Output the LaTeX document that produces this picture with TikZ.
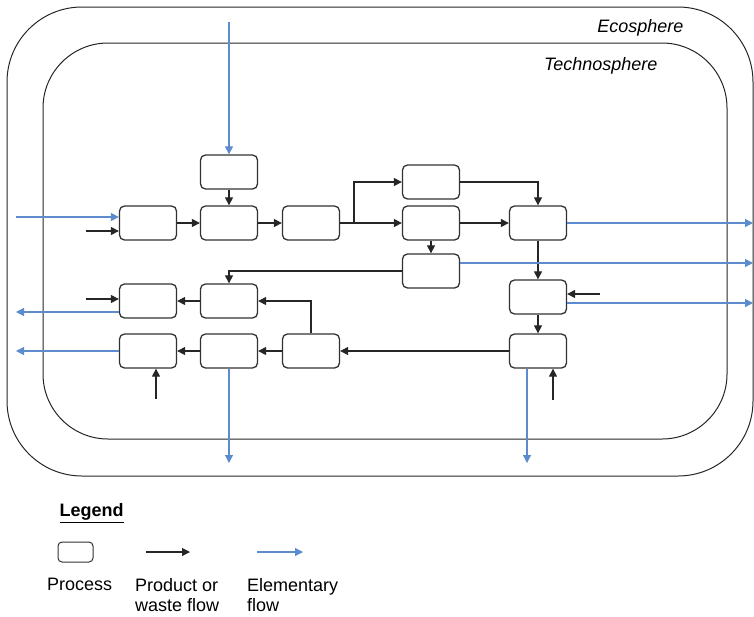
\documentclass[tikz,border=0pt]{standalone}
\usepackage{fontspec}
\setmainfont{Liberation Sans}
\usetikzlibrary{arrows.meta,positioning}
\definecolor{eblue}{RGB}{92,140,205}
\definecolor{boxgray}{RGB}{50,50,50}

\begin{document}
\begin{tikzpicture}[x=1pt, y=-1pt, >={Triangle[length=8pt,width=8pt]},
		font=\fontsize{18}{20}\selectfont,
		proc/.style = {draw=boxgray, line width=1.3pt, rounded corners=5pt, minimum width=57pt, minimum height=34pt, inner sep=0pt},
		pflow/.style = {->, line width=1.1pt, draw=black!85},
		eflow/.style = {->, line width=1.1pt, draw=eblue},
		sphere/.style = {draw=black!85, line width=1pt}]
		\useasboundingbox (0,0) rectangle (754,616);
		% spheres
		\draw[sphere, rounded corners=75pt] (7,7) rectangle (753,476);
		\draw[sphere, rounded corners=65pt] (43,43) rectangle (727,439);
		\node[anchor=east, font=\fontsize{18}{20}\selectfont\itshape] (eco) at (687,28) {Ecosphere};
		\node[anchor=east, font=\fontsize{18}{20}\selectfont\itshape] (techno) at (661,66) {Technosphere};
		% processes
		\node[proc] (A) at (229,172) {};
		\node[proc] (L) at (148,223) {};
		\node[proc] (B) at (229,223) {};
		\node[proc] (C) at (311,223) {};
		\node[proc] (D) at (431,182) {};
		\node[proc] (E) at (431,223) {};
		\node[proc] (F) at (538,223) {};
		\node[proc] (G) at (431,271) {};
		\node[proc] (H) at (538,297) {};
		\node[proc] (I) at (538,351) {};
		\node[proc] (J) at (148,301) {};
		\node[proc] (K) at (229,301) {};
		\node[proc] (M) at (148,351) {};
		\node[proc] (N) at (229,351) {};
		\node[proc] (O) at (311,351) {};
		% free ends
		\coordinate (inA) at (229,22);
		\coordinate (inLe) at (16,217);
		\coordinate (inLp) at (86,231);
		\coordinate (split) at (354,223);
		\coordinate (outF) at (753,223);
		\coordinate (outG) at (753,263);
		\coordinate (inH) at (600,294);
		\coordinate (outH) at (753,303);
		\coordinate (inI) at (553,400);
		\coordinate (outI) at (527,463);
		\coordinate (inJ) at (86,299);
		\coordinate (outJ) at (16,312);
		\coordinate (outM) at (16,351);
		\coordinate (inM) at (156,399);
		\coordinate (outN) at (229,463);
		% product flows
		\draw[pflow] (A) -- (B);
		\draw[pflow] (inLp) -- (inLp -| L.west);
		\draw[pflow] (L) -- (B);
		\draw[pflow] (B) -- (C);
		\draw[pflow] (C) -- (E);
		\draw[pflow] (split) |- (D);
		\draw[pflow] (D) -| (F);
		\draw[pflow] (E) -- (F);
		\draw[pflow] (E) -- (G);
		\draw[pflow] (G) -| (K);
		\draw[pflow] (F) -- (H);
		\draw[pflow] (inH) -- (inH -| H.east);
		\draw[pflow] (H) -- (I);
		\draw[pflow] (inI) -- (inI |- I.south);
		\draw[pflow] (I) -- (O);
		\draw[pflow] (O) -- (N);
		\draw[pflow] (N) -- (M);
		\draw[pflow] (O) |- (K);
		\draw[pflow] (K) -- (J);
		\draw[pflow] (inJ) -- (inJ -| J.west);
		\draw[pflow] (inM) -- (inM |- M.south);
		% elementary flows
		\draw[eflow] (inA) -- (A);
		\draw[eflow] (inLe) -- (inLe -| L.west);
		\draw[eflow] (outF -| F.east) -- (outF);
		\draw[eflow] (outG -| G.east) -- (outG);
		\draw[eflow] (outH -| H.east) -- (outH);
		\draw[eflow] (outI |- I.south) -- (outI);
		\draw[eflow] (outJ -| J.west) -- (outJ);
		\draw[eflow] (outM -| M.west) -- (outM);
		\draw[eflow] (N) -- (outN);
		% legend
		\node[anchor=west, font=\fontsize{18}{20}\selectfont\bfseries] (leg) at (56,513) {\underline{Legend}};
		\node[proc, minimum width=35pt, minimum height=20pt, rounded corners=4pt, line width=1pt] (legbox) at (75.5,552) {};
		\coordinate (pa) at (146,552);
		\coordinate (pb) at (190,552);
		\coordinate (ea) at (257,552);
		\coordinate (eb) at (303,552);
		\draw[pflow] (pa) -- (pb);
		\draw[eflow] (ea) -- (eb);
		\node[anchor=north west, inner sep=0pt] (tproc) at (47,578) {Process};
		\node[anchor=north west, inner sep=0pt, align=left] (tprod) at (135,578) {Product or\\waste flow};
		\node[anchor=north west, inner sep=0pt, align=left] (telem) at (247,578) {Elementary\\flow};
	\end{tikzpicture}
\end{document}
